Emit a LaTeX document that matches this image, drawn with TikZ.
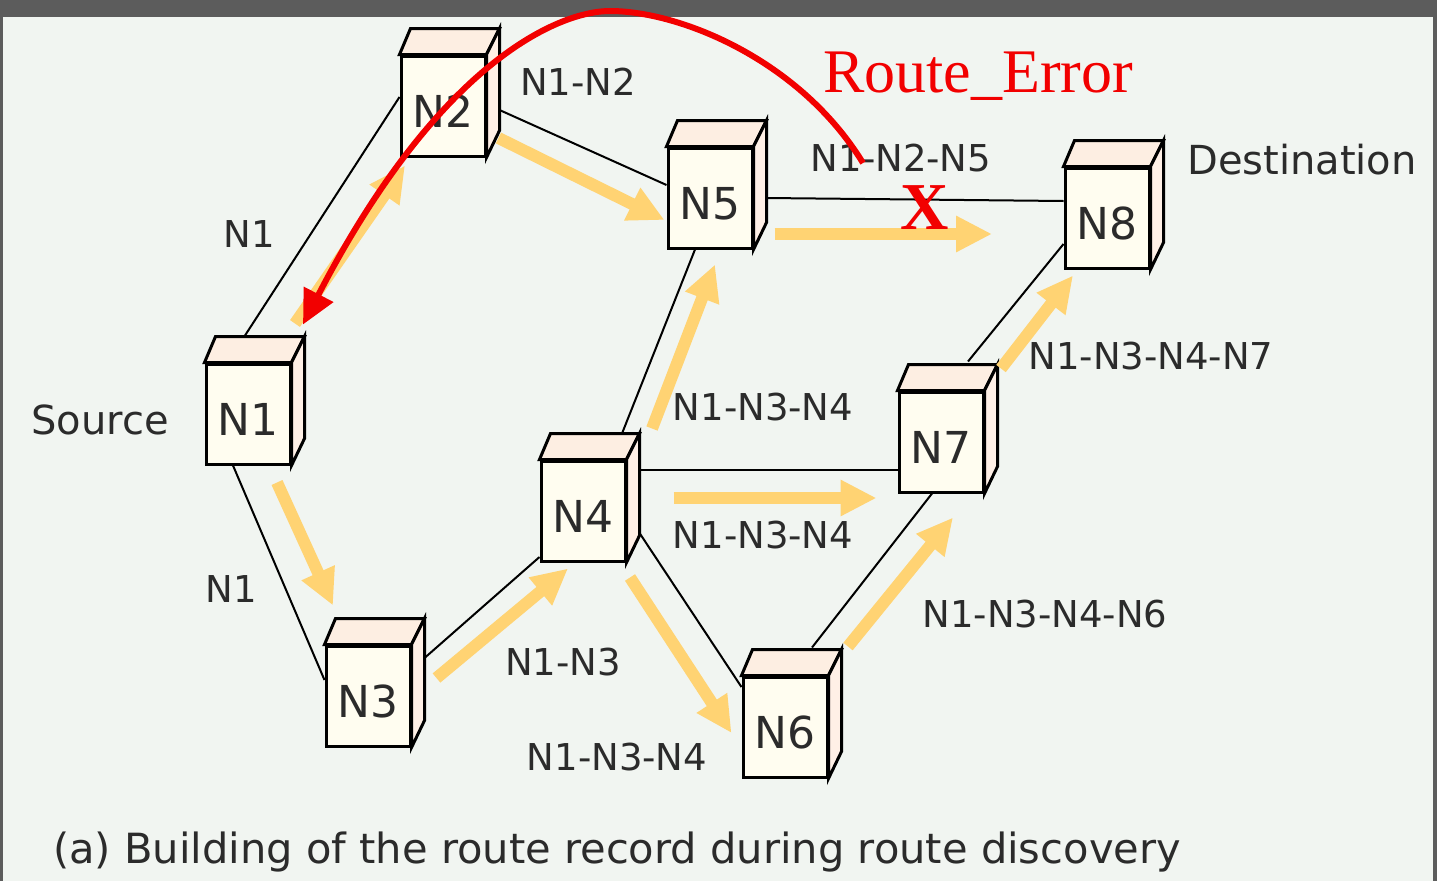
\documentclass[tikz,border=0pt]{standalone}
\usepackage{fontspec}
\setmainfont{DejaVu Sans}
\newfontfamily\errfont{Liberation Serif}
\usetikzlibrary{arrows.meta}

\definecolor{bg}{HTML}{F1F5F1}
\definecolor{framegray}{HTML}{5C5C5C}
\definecolor{face}{HTML}{FFFDF0}
\definecolor{topface}{HTML}{FDEEE2}
\definecolor{sideface}{HTML}{FFF0E6}
\definecolor{flow}{HTML}{FFD373}
\definecolor{ink}{HTML}{2B2B2B}
\definecolor{err}{HTML}{F20000}

\tikzset{
  cube/.style={rectangle, draw=black, line width=3pt, fill=face,
    minimum width=84pt, minimum height=100pt, inner sep=0pt,
    text height=42pt, text depth=0pt,
    text=ink, font=\fontsize{44}{44}\selectfont},
  cubeedge/.style={draw=black, line width=3pt, line join=miter},
  link/.style={draw=black, line width=2pt},
  flowarrow/.style={draw=flow, line width=12pt,
    -{Triangle[length=36pt,width=34pt]}},
  lbl/.style={text=ink, inner sep=0pt, font=\fontsize{37}{37}\selectfont},
  biglbl/.style={text=ink, inner sep=0pt, font=\fontsize{40}{40}\selectfont},
}

% a node box drawn as a small cube: front face is the named node
\newcommand\cubenode[3]{%
  \node[cube] (#1) at (#2) {#3};
  \filldraw[cubeedge, fill=topface] (#1.north west) -- ([shift={(11,-26)}]#1.north west)
    -- ([shift={(13,-26)}]#1.north east) -- (#1.north east) -- cycle;
  \filldraw[cubeedge, fill=sideface] (#1.north east) -- ([shift={(13,-26)}]#1.north east)
    -- ([shift={(13,-27)}]#1.south east) -- (#1.south east) -- cycle;
}

\begin{document}
\begin{tikzpicture}[x=1pt,y=-1pt]
  % frame and background
  \fill[framegray] (0,0) rectangle (1437,881);
  \fill[bg] (3,17) rectangle (1433,881);
  \useasboundingbox (0,0) rectangle (1437,881);

  % nodes
  \cubenode{N1}{248,414}{N1}
  \cubenode{N2}{443,106}{N2}
  \cubenode{N3}{368,696}{N3}
  \cubenode{N4}{583,511}{N4}
  \cubenode{N5}{710,198}{N5}
  \cubenode{N6}{785,727}{N6}
  \cubenode{N7}{941,442}{N7}
  \cubenode{N8}{1107,218}{N8}

  % links
  \draw[link] ([shift={(-3,-27)}]N1.north) -- ([shift={(0,-9)}]N2.west);
  \draw[link] ([shift={(-15,0)}]N1.south) -- ([shift={(0,-16)}]N3.west);
  \draw[link] ([shift={(13,4)}]N2.east) -- ([shift={(0,-13)}]N5.west);
  \draw[link] ([shift={(13,0)}]N5.east) -- ([shift={(0,-17)}]N8.west);
  \draw[link] ([shift={(-15,0)}]N5.south) -- ([shift={(39,-26)}]N4.north);
  \draw[link] ([shift={(13,-38)}]N3.east) -- ([shift={(0,46)}]N4.west);
  \draw[link] ([shift={(12,-41)}]N4.east) -- ([shift={(0,28)}]N7.west);
  \draw[link] ([shift={(13,22)}]N4.east) -- ([shift={(0,-40)}]N6.west);
  \draw[link] ([shift={(27,-28)}]N6.north) -- ([shift={(-9,0)}]N7.south);
  \draw[link] ([shift={(27,-29)}]N7.north) -- ([shift={(0,26)}]N8.west);

  % route request flow
  \coordinate (blocked) at (992,234);
  \draw[flowarrow] ([shift={(47,-39)}]N1.north) -- ([shift={(-38,8)}]N2.south);
  \draw[flowarrow] ([shift={(12,32)}]N2.east) -- ([shift={(-2,22)}]N5.west);
  \draw[flowarrow] ([shift={(21,36)}]N5.east) -- (blocked);
  \draw[flowarrow] ([shift={(29,17)}]N1.south) -- ([shift={(-35,-39)}]N3.north);
  \draw[flowarrow] ([shift={(25,-18)}]N3.east) -- ([shift={(-15,6)}]N4.south);
  \draw[flowarrow] ([shift={(69,-31)}]N4.north) -- ([shift={(5,15)}]N5.south);
  \draw[flowarrow] ([shift={(47,-13)}]N4.east) -- ([shift={(-21,56)}]N7.west);
  \draw[flowarrow] ([shift={(47,15)}]N4.south) -- ([shift={(-10,6)}]N6.west);
  \draw[flowarrow] ([shift={(63,-29)}]N6.north) -- ([shift={(12,24)}]N7.south);
  \draw[flowarrow] ([shift={(60,-22)}]N7.north) -- ([shift={(-34,6)}]N8.south);

  % labels
  \node[lbl] (l12) at (578,82) {N1-N2};
  \node[lbl] (l1a) at (249,234) {N1};
  \node[biglbl] (src) at (100,420) {Source};
  \node[lbl] (l1b) at (231,589) {N1};
  \node[lbl] (l13) at (563,662) {N1-N3};
  \node[lbl] (l134a) at (617,757) {N1-N3-N4};
  \node[lbl] (l134b) at (763,407) {N1-N3-N4};
  \node[lbl] (l134c) at (763,535) {N1-N3-N4};
  \node[lbl] (l1347) at (1151,356) {N1-N3-N4-N7};
  \node[lbl] (l1346) at (1045,614) {N1-N3-N4-N6};
  \node[lbl] (l125) at (901,158) {N1-N2-N5};
  \node[biglbl] (dst) at (1302,160) {Destination};
  \node[text=ink, inner sep=0pt, anchor=base, font=\fontsize{41.6}{42}\selectfont]
    (cap) at (617,863) {(a) Building of the route record during route discovery};

  % route error
  \node[text=err, inner sep=0pt, anchor=base, font=\errfont\fontsize{62}{62}\selectfont]
    (rerr) at (978,92) {Route\_Error};
  \node[text=err, inner sep=0pt, anchor=base, font=\errfont\bfseries\fontsize{67}{67}\selectfont]
    (cross) at (925,229) {X};
  \coordinate (errstart) at (863,163);
  \coordinate (errtop) at (610,11);
  \draw[err, line width=6pt, -{Triangle[length=34pt,width=32pt]}]
    (errstart) .. controls (800,60) and (680,11) .. (errtop)
    .. controls (560,11) and (440,60) .. ([shift={(55,-38)}]N1.north);
\end{tikzpicture}
\end{document}
